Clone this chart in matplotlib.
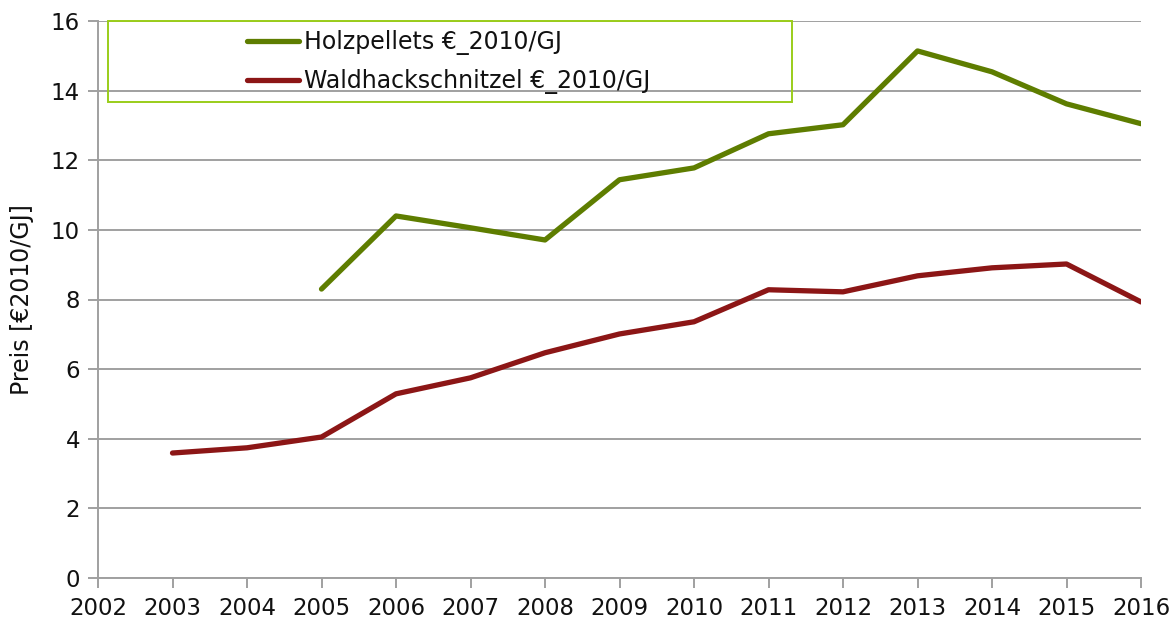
import numpy as np
import matplotlib
matplotlib.use('Agg')
import matplotlib.pyplot as plt
from matplotlib.patches import Rectangle

plt.rcParams['font.family'] = ['DejaVu Sans']

years = np.arange(2002, 2017)
pellet_years = [2005, 2006, 2007, 2008, 2009, 2010, 2011, 2012, 2013, 2014, 2015, 2016]
pellet_price = [8.30, 10.40, 10.06, 9.71, 11.44, 11.78, 12.76, 13.02, 15.14, 14.54, 13.62, 13.05]
chips_years = [2003, 2004, 2005, 2006, 2007, 2008, 2009, 2010, 2011, 2012, 2013, 2014, 2015, 2016]
chips_price = [3.59, 3.74, 4.05, 5.29, 5.75, 6.47, 7.01, 7.36, 8.28, 8.22, 8.68, 8.91, 9.02, 7.93]
labels = ['Holzpellets €_2010/GJ', 'Waldhackschnitzel €_2010/GJ']
colors = ['#5e7d00', '#8c1616']

fig = plt.figure(figsize=(11.76, 6.24), dpi=100)
ax = fig.add_axes([98/1176, 1-578/624, 1043/1176, 557/624])

ax.plot(pellet_years, pellet_price, color=colors[0], lw=3.8, solid_capstyle='round', label=labels[0])
ax.plot(chips_years, chips_price, color=colors[1], lw=3.8, solid_capstyle='round', label=labels[1])

ax.set_xlim(2002, 2016)
ax.set_ylim(0, 16)
ax.set_xticks(years)
ax.set_yticks(np.arange(0, 17, 2))
ax.grid(axis='y', color='#a0a0a0', lw=1.4)
ax.set_axisbelow(True)
for s in ['top', 'right']:
    ax.spines[s].set_visible(False)
for s in ['left', 'bottom']:
    ax.spines[s].set_color('#a0a0a0')
    ax.spines[s].set_linewidth(1.4)
ax.tick_params(axis='both', colors='#a0a0a0', labelcolor='#111111', labelsize=16.5, length=7, width=1.4)
ax.tick_params(axis='x', pad=7)
ax.tick_params(axis='y', pad=6)
ax.set_ylabel('Preis [€2010/GJ]', fontsize=17, color='#111111')
ax.yaxis.set_label_coords(-64/1043, 0.5)

# legend box
ax.add_patch(Rectangle((10/1043, 1-81/557), 684/1043, 81/557, transform=ax.transAxes,
                       fill=False, edgecolor='#9acd1a', lw=1.4, clip_on=False, zorder=5))
leg = ax.legend(loc='upper left', bbox_to_anchor=(149/1043, 1-9/557), frameon=False,
                fontsize=17, handlelength=2.2, handletextpad=0.22, labelspacing=0.6,
                borderpad=0, borderaxespad=0)
for t in leg.get_texts():
    t.set_color('#111111')

fig.savefig('out.png', dpi=100)
